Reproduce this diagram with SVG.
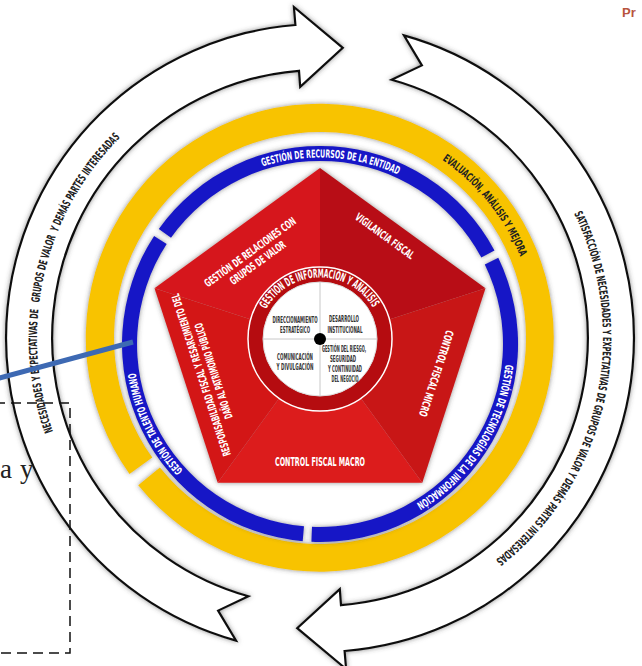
<svg xmlns="http://www.w3.org/2000/svg" width="642" height="666" viewBox="0 0 642 666">
<defs>
<style>
.arrow{fill:#fff;stroke:#111;stroke-width:2.2;stroke-linejoin:miter;filter:url(#sh)}
.cond{font-family:"Liberation Sans Narrow","DejaVu Sans Condensed","Liberation Sans",sans-serif;font-weight:bold;font-stretch:condensed}
.wt{fill:#fff}
.dk{fill:#222}
.q{fill:#333;font-size:8px}
.yel{fill:#f8c300;filter:url(#sh)}
.blu{fill:#1818c6;filter:url(#sh)}
</style>
<filter id="sh" x="-20%" y="-20%" width="140%" height="140%"><feDropShadow dx="0" dy="0" stdDeviation="2.5" flood-color="#444" flood-opacity="0.6"/></filter>
<path id="pL" d="M 52.9 431.5 A 283 283 0 0 1 121.3 136.5"/>
<path id="pR" d="M 574.1 213.5 A 283 283 0 0 1 494.2 561.0"/>
<path id="pTop" d="M 262.4 166.6 A 186.5 186.5 0 0 1 398.8 175.0"/>
<path id="pRt" d="M 505.4 364.5 A 186.5 186.5 0 0 1 414.9 504.5"/>
<path id="pLt" d="M 182.9 470.5 A 186.5 186.5 0 0 1 135.6 372.2"/>
<path id="pY" d="M 442.3 160.0 A 216 216 0 0 1 520.6 257.8"/>
<path id="pC" d="M 266.2 309.2 A 61.5 61.5 0 0 1 373.8 309.2"/>
</defs>
<rect width="642" height="666" fill="#fff"/>

<g id="arrow-left">
<path class="arrow" d="M 236.1 640.6 A 314 314 0 0 1 295.4 25.0 L 293.9 7.0 L 342.8 47.9 L 300.2 86.8 L 299.0 70.8 A 268 268 0 0 0 248.4 596.2 L 218.1 610.6 Z"/>
<text class="cond dk" font-size="11.5" xml:space="preserve"><textPath href="#pL" textLength="318" lengthAdjust="spacingAndGlyphs">NECESIDADES Y EXPECTATIVAS DE   GRUPOS DE VALOR  Y DEMÁS PARTES INTERESADAS</textPath></text>
</g>
<g id="arrow-right">
<path class="arrow" transform="rotate(180 320 338)" d="M 236.1 640.6 A 314 314 0 0 1 295.4 25.0 L 293.9 7.0 L 342.8 47.9 L 300.2 86.8 L 299.0 70.8 A 268 268 0 0 0 248.4 596.2 L 218.1 610.6 Z"/>
<text class="cond dk" font-size="11.5"><textPath href="#pR" textLength="384" lengthAdjust="spacingAndGlyphs">SATISFACCIÓN DE NECESIDADES Y EXPECTATIVAS DE GRUPOS DE VALOR Y DEMÁS PARTES INTERESADAS</textPath></text>
</g>

<g id="ring-evaluacion">
<path class="yel" d="M 129.5 473.9 A 234 234 0 1 1 138.2 485.3 L 159.9 467.6 A 206 206 0 1 0 152.3 457.6 Z"/>
<text class="cond dk" font-size="11"><textPath href="#pY" textLength="126" lengthAdjust="spacingAndGlyphs">EVALUACIÓN, ANÁLISIS Y MEJORA</textPath></text>
</g>

<g id="ring-recursos">
<path class="blu" d="M 158.8 229.0 A 198 198 0 0 1 494.5 250.4 L 481.3 257.5 A 183 183 0 0 0 171.0 237.7 Z"/>
<text class="cond wt" font-size="11"><textPath href="#pTop" textLength="139" lengthAdjust="spacingAndGlyphs">GESTIÓN DE RECURSOS DE LA ENTIDAD</textPath></text>
</g>
<g id="ring-tecnologias">
<path class="blu" d="M 498.3 257.8 A 198 198 0 0 1 311.4 541.8 L 312.0 526.8 A 183 183 0 0 0 484.8 264.4 Z"/>
<text class="cond wt" font-size="11"><textPath href="#pRt" textLength="171" lengthAdjust="spacingAndGlyphs">GESTIÓN DE TECNOLOGÍAS DE LA INFORMACIÓN</textPath></text>
</g>
<g id="ring-talento">
<path class="blu" d="M 302.7 541.2 A 198 198 0 0 1 154.1 235.9 L 166.7 244.1 A 183 183 0 0 0 304.0 526.3 Z"/>
<text class="cond wt" font-size="11"><textPath href="#pLt" textLength="110" lengthAdjust="spacingAndGlyphs">GESTIÓN DE TALENTO HUMANO</textPath></text>
</g>

<g id="pentagon" filter="url(#sh)">
<polygon points="320,342 154.5,288.2 320,168" fill="#d6181c"/>
<polygon points="320,342 320,168 485.5,288.2" fill="#b80f12"/>
<polygon points="320,342 485.5,288.2 422.3,482.8" fill="#c81418"/>
<polygon points="320,342 422.3,482.8 217.7,482.8" fill="#dc1a1d"/>
<polygon points="320,342 217.7,482.8 154.5,288.2" fill="#d31719"/>
</g>
<g id="relaciones">
<text class="cond wt" font-size="11" text-anchor="middle" transform="translate(254.1 257.7) rotate(-36)"><tspan x="0" y="-3" textLength="110" lengthAdjust="spacingAndGlyphs">GESTIÓN DE RELACIONES CON</tspan><tspan x="0" y="10" textLength="66" lengthAdjust="spacingAndGlyphs">GRUPOS DE VALOR</tspan></text>
</g>
<g id="vigilancia">
<text class="cond wt" font-size="11" text-anchor="middle" transform="translate(385 236) rotate(36)"><tspan x="0" y="4" textLength="70" lengthAdjust="spacingAndGlyphs">VIGILANCIA FISCAL</tspan></text>
</g>
<g id="micro">
<text class="cond wt" font-size="11" text-anchor="middle" transform="translate(436.5 373.5) rotate(108)"><tspan x="0" y="4" textLength="90" lengthAdjust="spacingAndGlyphs">CONTROL FISCAL MICRO</tspan></text>
</g>
<g id="macro">
<text class="cond wt" font-size="12" text-anchor="middle"><tspan x="320" y="466" textLength="90" lengthAdjust="spacingAndGlyphs">CONTROL FISCAL MACRO</tspan></text>
</g>
<g id="responsabilidad">
<text class="cond wt" font-size="11" text-anchor="middle" transform="translate(207.7 372.8) rotate(-108)"><tspan x="0" y="-3" textLength="170" lengthAdjust="spacingAndGlyphs">RESPONSABILIDAD FISCAL Y RESARCIMIENTO DEL</tspan><tspan x="0" y="10" textLength="100" lengthAdjust="spacingAndGlyphs">DAÑO AL PATRIMONIO PÚBLICO</tspan></text>
</g>

<g id="informacion">
<circle cx="320" cy="339" r="72" fill="#b50c10" stroke="#fff" stroke-width="1.5"/>
<circle cx="320" cy="339" r="57" fill="#fff" stroke="#ddd" stroke-width="1"/>
<line x1="263" y1="339" x2="377" y2="339" stroke="#c8c8c8" stroke-width="1"/>
<line x1="320" y1="282" x2="320" y2="396" stroke="#c8c8c8" stroke-width="1"/>
<circle cx="320" cy="339" r="6" fill="#000"/>
<text class="cond wt" font-size="12"><textPath href="#pC" textLength="129" lengthAdjust="spacingAndGlyphs">GESTIÓN DE INFORMACIÓN Y ANÁLISIS</textPath></text>
<g class="cond q" text-anchor="middle">
<text x="295" y="323" textLength="45" lengthAdjust="spacingAndGlyphs">DIRECCIONAMIENTO</text>
<text x="295" y="333" textLength="30" lengthAdjust="spacingAndGlyphs">ESTRATÉGICO</text>
<text x="344" y="322" textLength="30" lengthAdjust="spacingAndGlyphs">DESARROLLO</text>
<text x="345" y="333" textLength="35" lengthAdjust="spacingAndGlyphs">INSTITUCIONAL</text>
<text x="295" y="360" textLength="36" lengthAdjust="spacingAndGlyphs">COMUNICACIÓN</text>
<text x="295" y="370" textLength="37" lengthAdjust="spacingAndGlyphs">Y DIVULGACIÓN</text>
<text x="344" y="352" textLength="44" lengthAdjust="spacingAndGlyphs">GESTIÓN DEL RIESGO,</text>
<text x="343" y="362" textLength="26" lengthAdjust="spacingAndGlyphs">SEGURIDAD</text>
<text x="345" y="372" textLength="34" lengthAdjust="spacingAndGlyphs">Y CONTINUIDAD</text>
<text x="345" y="382" textLength="27" lengthAdjust="spacingAndGlyphs">DEL NEGOCIO</text>
</g>
</g>

<g id="connectors">
<line x1="-2" y1="378.5" x2="133" y2="342" stroke="#3d69b3" stroke-width="5"/>
</g>
<g id="textbox">
<rect x="-5" y="403" width="75" height="250" fill="none" stroke="#111" stroke-width="1.5" stroke-dasharray="10 6"/>
<text x="0 11 20" y="478" font-family="Liberation Serif, serif" font-size="27" fill="#222">a y</text>
</g>
<text x="622" y="17" font-family="Liberation Sans, sans-serif" font-weight="bold" font-size="13" fill="#b8543e">Pr</text>
</svg>
